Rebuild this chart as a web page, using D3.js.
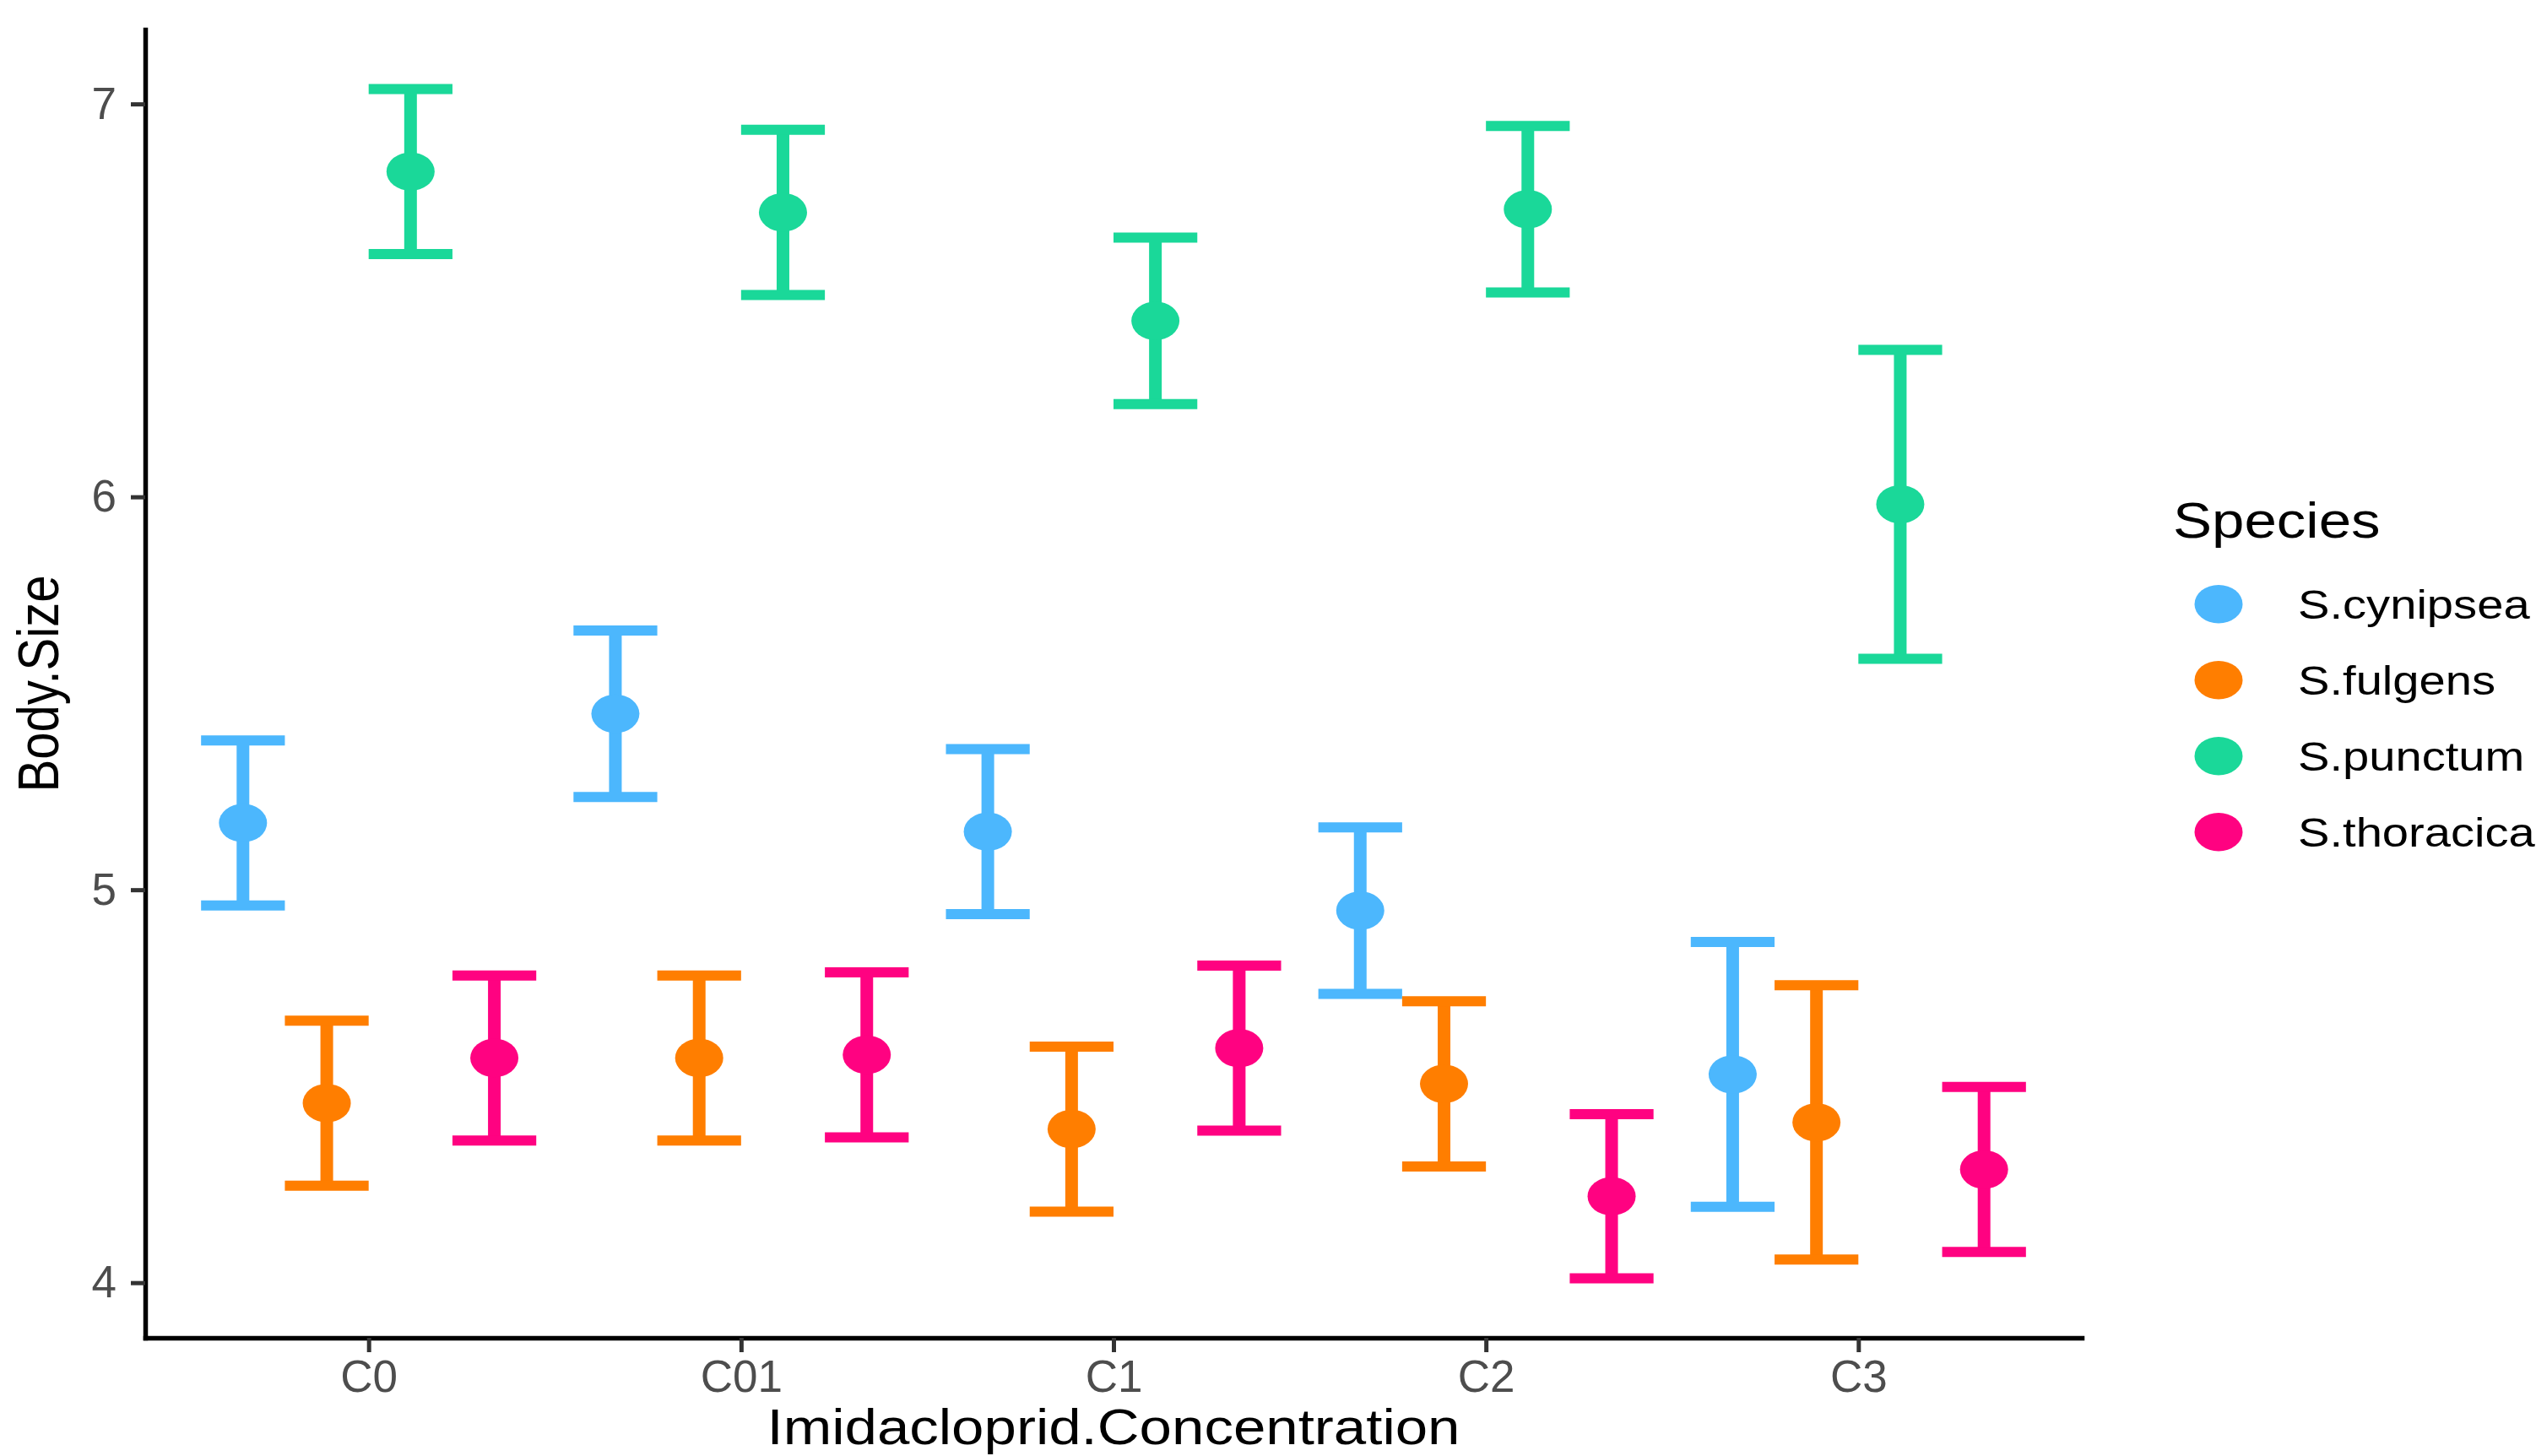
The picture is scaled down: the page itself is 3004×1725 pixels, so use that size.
<!DOCTYPE html>
<html>
<head>
<meta charset="utf-8">
<script src="https://cdn.jsdelivr.net/npm/d3@7"></script>
<style>
  html, body { margin: 0; padding: 0; background: #ffffff; }
  svg { display: block; font-family: "Liberation Sans", Arial, Helvetica, sans-serif; }
</style>
</head>
<body>
<svg id="chart" width="3004" height="1725"></svg>
<script>
// Mean body size and standard error per species at each imidacloprid concentration
const categories = ["C0", "C01", "C1", "C2", "C3"];
const species = ["S.cynipsea", "S.fulgens", "S.punctum", "S.thoracica"];
const speciesColors = ["#4cb7fd", "#ff7e00", "#1ad899", "#ff0281"];

const cynipseaMean  = [5.170, 5.448, 5.148, 4.947, 4.530];
const cynipseaSE    = [0.210, 0.212, 0.210, 0.212, 0.337];
const fulgensMean   = [4.457, 4.572, 4.391, 4.506, 4.408];
const fulgensSE     = [0.210, 0.210, 0.210, 0.210, 0.349];
const punctumMean   = [6.828, 6.724, 6.448, 6.732, 5.981];
const punctumSE     = [0.210, 0.210, 0.212, 0.212, 0.393];
const thoracicaMean = [4.572, 4.580, 4.597, 4.220, 4.288];
const thoracicaSE   = [0.210, 0.210, 0.210, 0.209, 0.210];

const yTicks = [4, 5, 6, 7];
const xTitle = "Imidacloprid.Concentration";
const yTitle = "Body.Size";
const legendTitle = "Species";

const means = [cynipseaMean, fulgensMean, punctumMean, thoracicaMean];
const ses = [cynipseaSE, fulgensSE, punctumSE, thoracicaSE];

const rows = [];
species.forEach((sp, si) => {
  categories.forEach((cat, ci) => {
    rows.push({ species: sp, si, cat, mean: means[si][ci], se: ses[si][ci] });
  });
});

// Panel geometry
const panel = { left: 172, right: 2466, top: 35, bottom: 1585 };
const textStretch = 1.17;   // horizontal glyph stretch of the rendered text

const svg = d3.select("#chart");

const x = d3.scalePoint()
  .domain(categories)
  .range([panel.left, panel.right])
  .padding(0.6);

const lo = d3.min(rows, d => d.mean - d.se);
const hi = d3.max(rows, d => d.mean + d.se);
const pad = (hi - lo) * 0.05;
const y = d3.scaleLinear()
  .domain([lo - pad, hi + pad])
  .range([panel.bottom, panel.top]);

const dodgeStep = x.step() * 0.225;
const dodge = si => (si - (species.length - 1) / 2) * dodgeStep;
const capHalf = dodgeStep / 2;
const color = d3.scaleOrdinal().domain(species).range(speciesColors);

// Error bars
const bars = svg.append("g").attr("class", "errorbars");
rows.forEach(d => {
  const cx = x(d.cat) + dodge(d.si);
  const g = bars.append("g").attr("stroke", color(d.species));
  g.append("line")
    .attr("x1", cx).attr("x2", cx)
    .attr("y1", y(d.mean + d.se)).attr("y2", y(d.mean - d.se))
    .attr("stroke-width", 15);
  [d.mean + d.se, d.mean - d.se].forEach(v => {
    g.append("line")
      .attr("x1", cx - capHalf).attr("x2", cx + capHalf)
      .attr("y1", y(v)).attr("y2", y(v))
      .attr("stroke-width", 12);
  });
});

// Mean points
svg.append("g").attr("class", "points")
  .selectAll("ellipse")
  .data(rows)
  .join("ellipse")
  .attr("cx", d => x(d.cat) + dodge(d.si))
  .attr("cy", d => y(d.mean))
  .attr("rx", 28.5)
  .attr("ry", 22.8)
  .attr("fill", d => color(d.species));

// Axes
const yAxis = svg.append("g")
  .attr("transform", `translate(${panel.left},0)`)
  .call(d3.axisLeft(y).tickValues(yTicks).tickSize(17).tickSizeOuter(0).tickPadding(17).tickFormat(d3.format("d")));
const xAxis = svg.append("g")
  .attr("transform", `translate(0,${panel.bottom})`)
  .call(d3.axisBottom(x).tickSize(17).tickSizeOuter(0).tickPadding(9));

[yAxis, xAxis].forEach(ax => {
  ax.select(".domain").attr("stroke", "#000").attr("stroke-width", 5.5).attr("stroke-linecap", "square");
  ax.selectAll(".tick line").attr("stroke", "#333333").attr("stroke-width", 5);
  ax.selectAll(".tick text")
    .attr("fill", "#4d4d4d")
    .attr("font-size", 53)
    .attr("font-family", "Liberation Sans, Arial, sans-serif");
});
xAxis.selectAll(".tick text").attr("dy", "0.71em");

// Axis titles
svg.append("text")
  .attr("transform", `translate(${(panel.left + panel.right) / 2},1711) scale(${textStretch},1)`)
  .attr("text-anchor", "middle")
  .attr("font-size", 59)
  .attr("fill", "#000")
  .text(xTitle);

svg.append("text")
  .attr("transform", `translate(69,${(panel.top + panel.bottom) / 2}) scale(${textStretch},1) rotate(-90)`)
  .attr("text-anchor", "middle")
  .attr("font-size", 58)
  .attr("fill", "#000")
  .text(yTitle);

// Legend
const legend = svg.append("g").attr("class", "legend");
legend.append("text")
  .attr("transform", `translate(2574,637) scale(${textStretch},1)`)
  .attr("font-size", 59)
  .attr("fill", "#000")
  .text(legendTitle);

const keyY = d3.scalePoint().domain(species).range([715.7, 985.7]);
const item = legend.selectAll("g.item")
  .data(species)
  .join("g")
  .attr("class", "item")
  .attr("transform", d => `translate(0,${keyY(d)})`);
item.append("ellipse")
  .attr("cx", 2628).attr("cy", 0)
  .attr("rx", 28.5).attr("ry", 22.8)
  .attr("fill", d => color(d));
item.append("text")
  .attr("transform", `translate(2722,17) scale(${textStretch},1)`)
  .attr("font-size", 48)
  .attr("fill", "#000")
  .text(d => d);
</script>
</body>
</html>
